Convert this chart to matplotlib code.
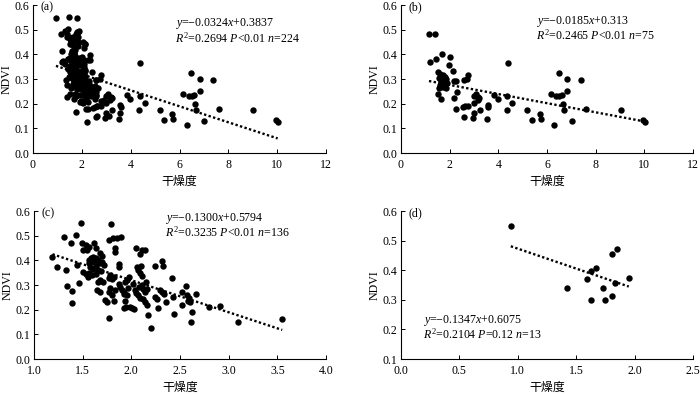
import matplotlib
matplotlib.use("Agg")
import matplotlib.pyplot as plt
import numpy as np

plt.rcParams['font.family'] = ['Liberation Serif', 'DejaVu Serif']
plt.rcParams['mathtext.fontset'] = 'custom'
plt.rcParams['mathtext.rm'] = 'Liberation Serif'
plt.rcParams['mathtext.it'] = 'Liberation Serif:italic'
plt.rcParams['mathtext.bf'] = 'Liberation Serif:bold'

# ---------------- data ----------------
b_x = [1.15, 1.38, 1.18, 1.42, 1.67, 2.02, 1.96, 2.12, 1.53, 1.62, 1.72, 1.80, 1.58, 1.85, 1.66,
       1.76, 1.90, 1.62, 1.74, 1.84, 1.55, 1.51, 1.66, 2.18, 2.28, 2.31, 2.19, 2.25, 2.58, 2.77,
       2.73, 2.54, 2.64, 2.77, 2.58, 2.94, 3.00, 3.09, 3.00, 3.18, 3.16, 3.22, 3.00, 3.25, 3.52,
       3.59, 3.57, 3.83, 3.99, 4.38, 4.37, 4.34, 4.58, 5.19, 5.38, 5.71, 5.75, 6.15, 6.30, 6.48,
       6.39, 6.50, 6.60, 6.64, 6.68, 6.84, 6.82, 7.02, 7.38, 7.61, 9.03, 9.95, 10.02, 1.70, 1.78]
b_y = [0.484, 0.481, 0.369, 0.382, 0.400, 0.388, 0.355, 0.332, 0.330, 0.322, 0.318, 0.310, 0.305, 0.298, 0.292,
       0.288, 0.285, 0.275, 0.268, 0.262, 0.265, 0.239, 0.219, 0.292, 0.290, 0.249, 0.222, 0.178, 0.296, 0.316,
       0.300, 0.186, 0.191, 0.191, 0.145, 0.141, 0.164, 0.240, 0.232, 0.229, 0.216, 0.222, 0.204, 0.175, 0.138,
       0.186, 0.196, 0.237, 0.218, 0.364, 0.232, 0.176, 0.203, 0.176, 0.134, 0.160, 0.138, 0.240, 0.115, 0.326,
       0.233, 0.233, 0.236, 0.200, 0.176, 0.301, 0.253, 0.130, 0.296, 0.178, 0.173, 0.133, 0.125, 0.280, 0.300]

c_x = [1.19, 1.24, 1.31, 1.33, 1.34, 1.38, 1.39, 1.39, 1.43, 1.44, 1.46, 1.48, 1.49, 1.50, 1.53, 1.56, 1.54,
       1.50, 1.53, 1.55, 1.57, 1.56, 1.57, 1.59, 1.61, 1.64, 1.66, 1.68, 1.58, 1.61, 1.64, 1.66, 1.69, 1.60,
       1.64, 1.62, 1.64, 1.68, 1.70, 1.70, 1.68, 1.66, 1.65, 1.68, 1.71, 1.73, 1.75, 1.77,
       1.79, 1.77, 1.81, 1.83, 1.85, 1.83, 1.89, 1.87, 1.87, 1.78, 1.80, 1.82, 1.77, 1.78, 1.77, 1.80, 1.83,
       1.82, 1.87, 1.88, 1.90, 1.92, 1.92, 1.94, 1.96, 1.98, 1.97, 1.96, 1.94, 1.92, 1.95, 1.99, 2.01, 2.03,
       2.05, 2.09, 2.11, 2.14, 2.06, 2.07, 2.09, 2.10, 2.11, 2.02, 2.04, 2.05, 2.07, 2.09, 2.11, 2.12, 2.14,
       2.16, 2.15, 2.12, 2.14, 2.16, 2.17, 2.20,
       2.24, 2.24, 2.26, 2.27, 2.32, 2.33, 2.29, 2.32, 2.34, 2.36, 2.42, 2.43, 2.44, 2.52, 2.52, 2.56, 2.57,
       2.59, 2.60, 2.62, 2.61, 2.66, 2.58,
       2.80, 2.91, 3.10, 3.55, 1.62, 1.72, 2.08]
c_y = [0.414, 0.373, 0.496, 0.361, 0.296, 0.469, 0.276, 0.226, 0.503, 0.381, 0.309, 0.551, 0.469, 0.442, 0.462, 0.455, 0.442,
       0.354, 0.343, 0.334, 0.347, 0.388, 0.401, 0.408, 0.415, 0.411, 0.400, 0.388, 0.374, 0.365, 0.378, 0.361, 0.357, 0.341,
       0.343, 0.469, 0.449, 0.428, 0.418, 0.395, 0.320, 0.311, 0.280, 0.270, 0.311, 0.239, 0.232, 0.168,
       0.546, 0.482, 0.492, 0.449, 0.489, 0.432, 0.496, 0.384, 0.374, 0.341, 0.324, 0.334, 0.327, 0.286, 0.270, 0.259, 0.278,
       0.235, 0.303, 0.293, 0.280, 0.273, 0.262, 0.311, 0.320, 0.334, 0.286, 0.259, 0.235, 0.205, 0.211, 0.212, 0.208, 0.201,
       0.449, 0.424, 0.442, 0.442, 0.374, 0.361, 0.347, 0.378, 0.338, 0.303, 0.280, 0.266, 0.259, 0.249, 0.300, 0.284, 0.273,
       0.284, 0.314, 0.243, 0.230, 0.219, 0.178, 0.124,
       0.377, 0.253, 0.243, 0.205, 0.397, 0.378, 0.280, 0.270, 0.262, 0.230, 0.327, 0.253, 0.182, 0.273, 0.219, 0.297, 0.259,
       0.246, 0.232, 0.192, 0.149, 0.264, 0.235,
       0.212, 0.215, 0.151, 0.162, 0.395, 0.380, 0.290]

d_x = [0.94, 1.42, 1.59, 1.63, 1.63, 1.67, 1.73, 1.75, 1.81, 1.85, 1.81, 1.83, 1.95]
d_y = [0.548, 0.341, 0.369, 0.300, 0.397, 0.408, 0.341, 0.300, 0.456, 0.472, 0.313, 0.356, 0.375]

a_x = b_x + c_x + d_x
a_y = b_y + c_y + d_y

fits = {
    'a': (-0.0324, 0.3837),
    'b': (-0.0185, 0.313),
    'c': (-0.1300, 0.5794),
    'd': (-0.1347, 0.6075),
}
labels = {
    'a': [r'$y$=−0.0324$x$+0.3837', r'$R^2$=0.2694 $P$<0.01 $n$=224'],
    'b': [r'$y$=−0.0185$x$+0.313', r'$R^2$=0.2465 $P$<0.01 $n$=75'],
    'c': [r'$y$=−0.1300$x$+0.5794', r'$R^2$=0.3235 $P$<0.01 $n$=136'],
    'd': [r'$y$=−0.1347$x$+0.6075', r'$R^2$=0.2104 $P$=0.12 $n$=13'],
}
xticks = {
    'a': [0, 2, 4, 6, 8, 10, 12],
    'b': [0, 2, 4, 6, 8, 10, 12],
    'c': [1.0, 1.5, 2.0, 2.5, 3.0, 3.5, 4.0],
    'd': [0.0, 0.5, 1.0, 1.5, 2.0, 2.5],
}
yticks = {
    'a': [0.0, 0.1, 0.2, 0.3, 0.4, 0.5, 0.6],
    'b': [0.0, 0.1, 0.2, 0.3, 0.4, 0.5, 0.6],
    'c': [0.0, 0.1, 0.2, 0.3, 0.4, 0.5, 0.6],
    'd': [0.1, 0.2, 0.3, 0.4, 0.5, 0.6],
}
xfmt = {'a': '{:.0f}', 'b': '{:.0f}', 'c': '{:.1f}', 'd': '{:.1f}'}
data = {'a': (a_x, a_y), 'b': (b_x, b_y), 'c': (c_x, c_y), 'd': (d_x, d_y)}

# ---------------- layout ----------------
W, H = 700, 395
fig = plt.figure(figsize=(W / 100, H / 100), dpi=100)
rects = {
    'a': (33, 5, 293, 148),
    'b': (401, 5, 292, 148),
    'c': (34, 211, 292, 148),
    'd': (401, 211, 292, 148),
}
text_pos = {
    'a': (0.485, 0.875, 0.778),
    'b': (0.462, 0.89, 0.793),
    'c': (0.449, 0.95, 0.853),
    'd': (0.075, 0.262, 0.165),
}
fs = 8.6
for key in ['a', 'b', 'c', 'd']:
    l, t, w, h = rects[key]
    ax = fig.add_axes([l / W, 1 - (t + h) / H, w / W, h / H])
    x, y = data[key]
    ax.plot(x, y, 'o', color='black', markersize=4.6, markeredgewidth=0, zorder=3)
    m, c0 = fits[key]
    xx = np.array([min(x), max(x)])
    ax.plot(xx, m * xx + c0, color='black', lw=1.7, linestyle=(0, (1, 1.0)), zorder=2)
    xt = xticks[key]
    yt = yticks[key]
    ax.set_xlim(xt[0], xt[-1])
    ax.set_ylim(yt[0], yt[-1])
    ax.set_xticks(xt)
    ax.set_xticklabels([xfmt[key].format(v) for v in xt], fontsize=fs)
    ax.set_yticks(yt)
    ax.set_yticklabels(['{:.1f}'.format(v) for v in yt], fontsize=fs)
    ax.tick_params(direction='in', length=3, width=0.7)
    ax.tick_params(axis='x', pad=4)
    ax.tick_params(axis='y', pad=2.5)
    for s in ['top', 'right']:
        ax.spines[s].set_visible(False)
    for s in ['left', 'bottom']:
        ax.spines[s].set_linewidth(0.8)
    ax.set_ylabel('NDVI', fontsize=fs, labelpad=1.5)
    ax.set_xlabel('干燥度', fontsize=fs, family=['Noto Sans CJK SC'], labelpad=3)
    tx, ty1, ty2 = text_pos[key]
    ax.text(tx, ty1, labels[key][0], transform=ax.transAxes, fontsize=fs, va='center', ha='left')
    ax.text(tx, ty2, labels[key][1], transform=ax.transAxes, fontsize=fs, va='center', ha='left')
    ax.text(0.025, 0.985, '(' + key + ')', transform=ax.transAxes, fontsize=fs, va='center', ha='left')

fig.savefig('out.png', dpi=100)
